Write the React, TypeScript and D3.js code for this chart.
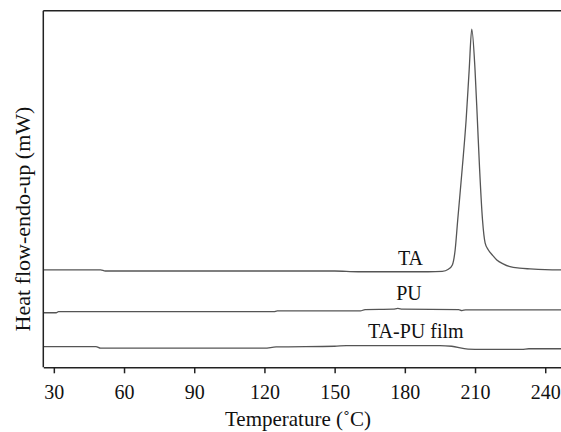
import React, { useEffect, useRef } from "react";
import * as d3 from "d3";

// Temperature (°C) and heat flow (arbitrary mW units) for each trace
const taTemp = [25.5, 50, 52, 150, 160, 190, 196, 198.6, 200.3, 201.5, 202.6, 204.6, 206.2, 207.5, 208.6, 210.0, 211.0, 211.9, 213.2, 214.3, 215.7, 217.5, 219.3, 222, 225.0, 229, 233.5, 240, 250];
const taVal = [27.3, 27.3, 27.0, 27.0, 26.8, 26.8, 26.9, 27.5, 28.7, 32.9, 41.3, 56.3, 69.4, 83.4, 94.8, 83.4, 69.4, 56.3, 41.3, 34.9, 32.9, 31.4, 30.1, 29.0, 28.2, 27.8, 27.6, 27.4, 27.3];

const puTemp = [25.5, 31, 32, 124, 125.5, 161, 163, 175, 177, 179, 203, 204.4, 206, 215, 250];
const puVal = [15.3, 15.3, 15.6, 15.6, 15.8, 15.8, 16.2, 16.3, 16.5, 16.3, 16.2, 15.9, 16.1, 16.1, 16.1];

const filmTemp = [25.5, 48, 50, 120, 125, 150, 155, 195, 200, 207, 210, 230, 233, 250];
const filmVal = [5.8, 5.8, 5.35, 5.35, 5.7, 5.9, 6.1, 6.1, 5.9, 5.1, 5.05, 5.0, 5.2, 5.2];

const seriesNames = ["TA", "PU", "TA-PU film"];
const labelTemp = [182.4, 181.8, 184.7];
const labelVal = [28.7, 18.9, 8.1];

const xTicks = [30, 60, 90, 120, 150, 180, 210, 240];
const xTitle = "Temperature (˚C)";
const yTitle = "Heat flow-endo-up (mW)";

export default function App() {
  const ref = useRef<SVGSVGElement | null>(null);

  useEffect(() => {
    const W = 561;
    const left = 43.3, top = 10.7, bottom = 367.3;
    const svg = d3.select(ref.current);
    svg.selectAll("*").remove();
    const font = "Liberation Serif, Tinos, Times New Roman, DejaVu Serif, serif";

    const x = d3.scaleLinear().domain([25.5, 250]).range([left, left + 224.5 * 2.34]);
    const y = d3.scaleLinear().domain([0, 100]).range([bottom, top]);

    const series = [
      { t: taTemp, v: taVal },
      { t: puTemp, v: puVal },
      { t: filmTemp, v: filmVal },
    ];

    const line = d3
      .line<[number, number]>()
      .x((d) => x(d[0]))
      .y((d) => y(d[1]))
      .curve(d3.curveMonotoneX);

    series.forEach((s) => {
      const pts = s.t.map((t, i) => [t, s.v[i]] as [number, number]);
      svg
        .append("path")
        .attr("d", line(pts))
        .attr("fill", "none")
        .attr("stroke", "#555")
        .attr("stroke-width", 1.3);
    });

    svg.append("line").attr("x1", left).attr("x2", W + 10).attr("y1", top).attr("y2", top)
      .attr("stroke", "#222").attr("stroke-width", 1.5);
    svg.append("line").attr("x1", left).attr("x2", left).attr("y1", top).attr("y2", bottom)
      .attr("stroke", "#222").attr("stroke-width", 1.5);

    const ax = svg
      .append("g")
      .attr("transform", `translate(0,${bottom})`)
      .call(d3.axisBottom(x).tickValues(xTicks).tickSize(6).tickSizeOuter(0).tickPadding(12));
    ax.attr("font-family", null).attr("font-size", null);
    ax.select(".domain").attr("stroke", "#222").attr("stroke-width", 1.5);
    ax.selectAll(".tick line").attr("stroke", "#222").attr("stroke-width", 1.5);
    ax.selectAll(".tick text")
      .style("font-family", font)
      .style("font-size", "20px")
      .attr("fill", "#111");

    svg.append("text")
      .attr("x", 298).attr("y", 426)
      .attr("text-anchor", "middle")
      .style("font-family", font).style("font-size", "21px").attr("fill", "#111")
      .text(xTitle);

    svg.append("text")
      .attr("transform", `translate(30,219) rotate(-90)`)
      .attr("text-anchor", "middle")
      .style("font-family", font).style("font-size", "22px").attr("fill", "#111")
      .text(yTitle);

    seriesNames.forEach((n, i) => {
      svg.append("text")
        .attr("x", x(labelTemp[i])).attr("y", y(labelVal[i]))
        .attr("text-anchor", "middle")
        .style("font-family", font).style("font-size", "20px").attr("fill", "#111")
        .text(n);
    });
  }, []);

  return (
    <svg
      ref={ref}
      width={561}
      height={432}
      style={{ position: "absolute", left: 0, top: 0, background: "#fff", display: "block" }}
    />
  );
}
